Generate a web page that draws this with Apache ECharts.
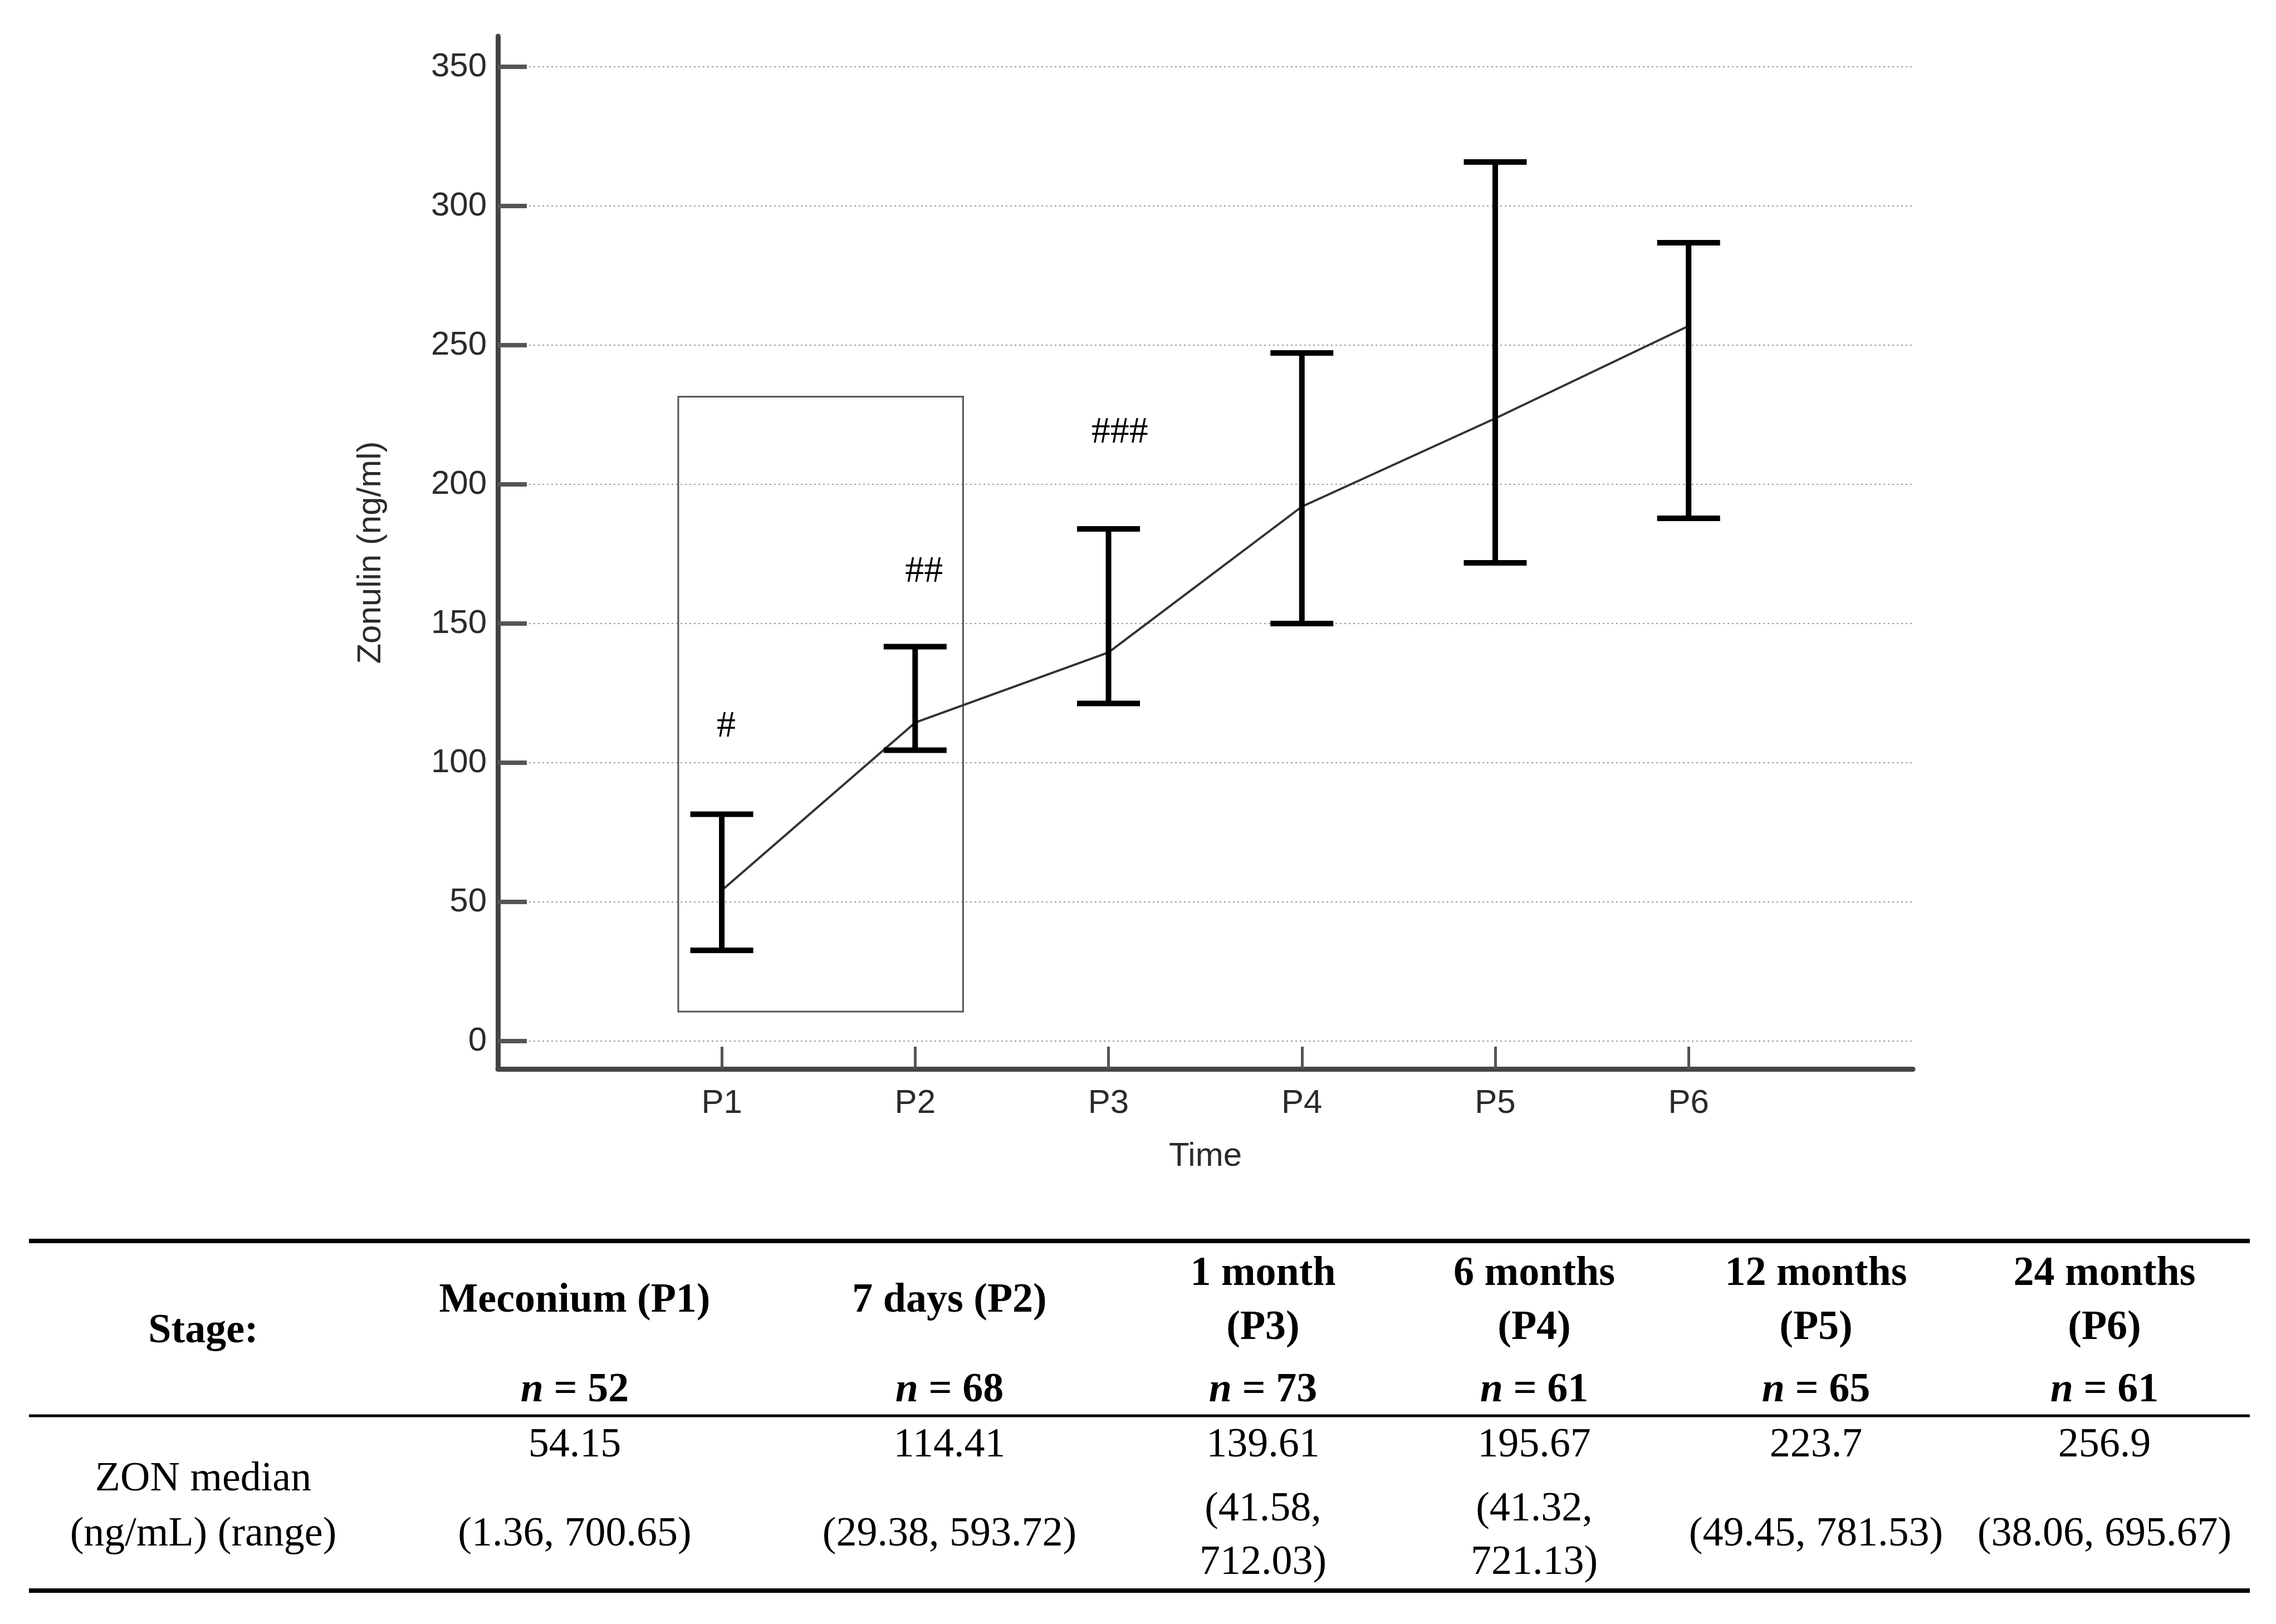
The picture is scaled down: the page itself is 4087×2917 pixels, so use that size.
<!DOCTYPE html>
<html><head><meta charset="utf-8">
<script src="https://cdn.jsdelivr.net/npm/echarts@6/dist/echarts.min.js"></script>
<style>html,body{margin:0;padding:0;background:#fff}#c{width:4087px;height:2917px}</style>
</head><body><div id="c"></div>
<script>
// ---- chart data ----
const categories = ['P1', 'P2', 'P3', 'P4', 'P5', 'P6'];
const xPositions = [1, 2, 3, 4, 5, 6];
const medians = [54.15, 114.41, 139.61, 192.0, 223.7, 256.9];
const lowerBars = [32.6, 104.5, 121.3, 150.0, 171.8, 187.8];
const upperBars = [81.5, 141.7, 184.0, 247.2, 315.8, 286.8];
const yTicks = [0, 50, 100, 150, 200, 250, 300, 350];
const annotationText = ['#', '##', '###'];
const annotationX = [1.023, 2.046, 3.058];
const annotationY = [113, 168.6, 218.6];
const boxCorners = [[0.775, 231.5], [2.248, 10.6]];

// ---- table data ----
const stageHeaders = ['Meconium (P1)', '7 days (P2)', '1 month\n(P3)', '6 months\n(P4)', '12 months\n(P5)', '24 months\n(P6)'];
const nValues = [52, 68, 73, 61, 65, 61];
const medianLabels = ['54.15', '114.41', '139.61', '195.67', '223.7', '256.9'];
const rangeLabels = ['(1.36, 700.65)', '(29.38, 593.72)', '(41.58,\n712.03)', '(41.32,\n721.13)', '(49.45, 781.53)', '(38.06, 695.67)'];

const SANS = '"Liberation Sans", Arial, sans-serif';
const SERIF = '"Liberation Serif", "Times New Roman", serif';
const colX = [1032, 1705, 2268, 2755, 3261, 3779];
const firstColX = 365;

const chart = echarts.init(document.getElementById('c'), null, {renderer: 'canvas'});

const graphics = [];
function rule(y, h) {
  graphics.push({type: 'rect', shape: {x: 52, y: y - h / 2, width: 3988, height: h}, style: {fill: '#000'}, silent: true});
}
rule(2229, 8); rule(2543, 5); rule(2857, 8);
function txt(text, x, y, opts) {
  graphics.push({type: 'text', silent: true, style: Object.assign({
    text: text, x: x, y: y, align: 'center', verticalAlign: 'middle',
    fontFamily: SERIF, fontSize: 74, fill: '#000', lineHeight: 97
  }, opts || {})});
}
txt('Stage:', firstColX, 2392, {fontWeight: 'bold'});
stageHeaders.forEach((h, i) => txt(h, colX[i], 2337, {fontWeight: 'bold'}));
nValues.forEach((n, i) => txt('{i|n}{b| = ' + n + '}', colX[i], 2498, {
  rich: {
    i: {fontStyle: 'italic', fontWeight: 'bold', fontFamily: SERIF, fontSize: 74, fill: '#000'},
    b: {fontWeight: 'bold', fontFamily: SERIF, fontSize: 74, fill: '#000'}
  }
}));
txt('ZON median\n(ng/mL) (range)', firstColX, 2707, {lineHeight: 99});
medianLabels.forEach((m, i) => txt(m, colX[i], 2597));
rangeLabels.forEach((r, i) => txt(r, colX[i], r.indexOf('\n') >= 0 ? 2760 : 2757, {lineHeight: 96}));

const option = {
  animation: false,
  backgroundColor: '#fff',
  grid: {left: 894, right: 652, top: 65, bottom: 997, containLabel: false, outerBoundsMode: 'none'},
  xAxis: {
    type: 'value', min: -0.158, max: 7.16,
    name: 'Time', nameLocation: 'middle', nameGap: 127,
    nameTextStyle: {fontFamily: SANS, fontSize: 60, color: '#2b2b2b'},
    axisLine: {show: true, onZero: false, lineStyle: {color: '#444', width: 9}},
    axisTick: {show: true, inside: true, length: 40, customValues: xPositions, lineStyle: {color: '#555', width: 5}},
    axisLabel: {show: true, customValues: xPositions, margin: 32, fontFamily: SANS, fontSize: 60, color: '#2b2b2b',
      formatter: v => categories[Math.round(v) - 1] || ''},
    splitLine: {show: false}
  },
  yAxis: {
    type: 'value', min: -10, max: 361,
    name: 'Zonulin (ng/ml)', nameLocation: 'middle', nameGap: 198,
    nameTextStyle: {fontFamily: SANS, fontSize: 60, color: '#2b2b2b'},
    axisLine: {show: true, onZero: false, lineStyle: {color: '#444', width: 9}},
    axisTick: {show: true, inside: true, length: 52, customValues: yTicks, lineStyle: {color: '#555', width: 8}},
    axisLabel: {show: true, customValues: yTicks, margin: 20, fontFamily: SANS, fontSize: 60, color: '#2b2b2b'},
    splitLine: {show: true, lineStyle: {type: [3, 5], color: '#999', width: 2}}
  },
  series: [
    {
      type: 'line', z: 3,
      data: xPositions.map((x, i) => [x, medians[i]]),
      showSymbol: false, symbol: 'none',
      lineStyle: {color: '#333', width: 4},
      markArea: {
        silent: true,
        itemStyle: {color: 'rgba(0,0,0,0)', borderColor: '#555', borderWidth: 3},
        label: {show: false},
        data: [[{coord: boxCorners[0]}, {coord: boxCorners[1]}]]
      }
    },
    {
      type: 'custom', z: 4,
      data: xPositions.map((x, i) => [x, lowerBars[i], upperBars[i]]),
      renderItem: (params, api) => {
        const x = api.value(0);
        const pLo = api.coord([x, api.value(1)]);
        const pHi = api.coord([x, api.value(2)]);
        const hw = 56.5;
        const st = {stroke: '#000', lineWidth: 10, fill: null};
        return {type: 'group', children: [
          {type: 'line', shape: {x1: pLo[0], y1: pLo[1], x2: pHi[0], y2: pHi[1]}, style: st},
          {type: 'line', shape: {x1: pLo[0] - hw, y1: pLo[1], x2: pLo[0] + hw, y2: pLo[1]}, style: st},
          {type: 'line', shape: {x1: pHi[0] - hw, y1: pHi[1], x2: pHi[0] + hw, y2: pHi[1]}, style: st}
        ]};
      }
    },
    {
      type: 'custom', z: 5,
      data: annotationText.map((t, i) => [annotationX[i], annotationY[i], i]),
      renderItem: (params, api) => {
        const p = api.coord([api.value(0), api.value(1)]);
        return {type: 'text', x: p[0], y: p[1], style: {
          text: annotationText[api.value(2)], align: 'center', verticalAlign: 'middle',
          fontFamily: SERIF, fontSize: 68, fill: '#000'}};
      }
    }
  ],
  graphic: graphics
};
chart.setOption(option);
</script>
</body></html>
